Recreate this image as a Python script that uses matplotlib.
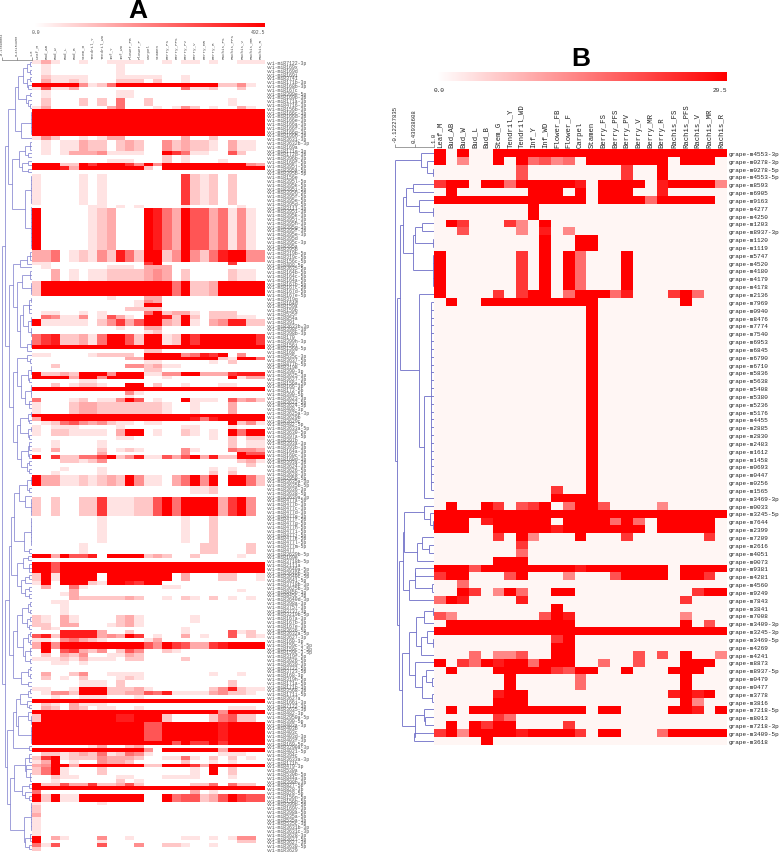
import numpy as np
import matplotlib
matplotlib.use("Agg")
import matplotlib.pyplot as plt
from matplotlib.colors import LinearSegmentedColormap

W, H = 780, 853
BLUE = "#6c6cc6"

tissues = ["Leaf_M", "Bud_AB", "Bud_W", "Bud_L", "Bud_B", "Stem_G", "Tendril_Y", "Tendril_WD",
           "Inf_Y", "Inf_WD", "Flower_FB", "Flower_F", "Carpel", "Stamen", "Berry_FS", "Berry_PFS",
           "Berry_PV", "Berry_V", "Berry_MR", "Berry_R", "Rachis_FS", "Rachis_PFS", "Rachis_V",
           "Rachis_MR", "Rachis_R"]

max_a = 492.5
max_b = 29.5
scale_a = [-0.13690084, 0.43154958, 1.0]
scale_b = [-0.12227835, 0.43938608, 1.0]

labels_a = [
    "vvi-miR7122-3p", "vvi-miR169x", "vvi-miR169d", "vvi-miR169i", "vvi-miR3741", "vvi-miR171b-3p", "vvi-miR168b-3p", "vvi-miR167c", "vvi-miR399e-5p", "vvi-miR169p-3p",
    "vvi-miR171a-3p", "vvi-miR4716-3p", "vvi-miR156b-3p", "vvi-miR166c-3p", "vvi-miR166d-3p", "vvi-miR166e-3p", "vvi-miR166a-3p", "vvi-miR166f-3p", "vvi-miR166g-3p", "vvi-miR166h-3p",
    "vvi-miR3631-3p", "vvi-miR3632b-3p", "vvi-miR169a", "vvi-miR171e-3p", "vvi-miR172d-3p", "vvi-miR396b-3p", "vvi-miR160f-5p", "vvi-miR395j-5p", "vvi-miR395a-5p", "vvi-miR395b-5p",
    "vvi-miR156e", "vvi-miR395l-5p", "vvi-miR395k-5p", "vvi-miR395i-5p", "vvi-miR395h-5p", "vvi-miR395f-5p", "vvi-miR395e-5p", "vvi-miR395d-5p", "vvi-miR3111-3p", "vvi-miR395i-3p",
    "vvi-miR395k-3p", "vvi-miR395j-3p", "vvi-miR395h-3p", "vvi-miR395g-3p", "vvi-miR395f-3p", "vvi-miR395e-3p", "vvi-miR395d", "vvi-miR395c-3p", "vvi-miR395a", "vvi-miR395b",
    "vvi-miR319b-5p", "vvi-miR319c-5p", "vvi-miR156c-5p", "vvi-miR408-5p", "vvi-miR3635-5p", "vvi-miR164b-5p", "vvi-miR164c-5p", "vvi-miR164a-5p", "vvi-miR167b-5p", "vvi-miR167c-5p",
    "vvi-miR167d-5p", "vvi-miR167e-5p", "vvi-miR319g", "vvi-miR164d", "vvi-miR159a", "vvi-miR159b", "vvi-miR535f", "vvi-miR854a", "vvi-miR391", "vvi-miR3633b-3p",
    "vvi-miR398c-3p", "vvi-miR398b-3p", "vvi-miR170", "vvi-miR399h-3p", "vvi-miR156i", "vvi-miR156g-5p", "vvi-miR168", "vvi-miR535c-3p", "vvi-miR3637-5p", "vvi-miR477b-5p",
    "vvi-miR319e", "vvi-miR390-3p", "vvi-miR3625-3p", "vvi-miR3627-3p", "vvi-miR156a-5p", "vvi-miR166-3p", "vvi-miR172-5p", "vvi-miR390-5p", "vvi-miR3623-3p", "vvi-miR3622-5p",
    "vvi-miR3624-5p", "vvi-miR408-3p", "vvi-miR3625a-3p", "vvi-miR3629b", "vvi-miR3629c", "vvi-miR482-5p", "vvi-miR3633a-5p", "vvi-miR3630-5p", "vvi-miR397a-5p", "vvi-miR397b",
    "vvi-miR393a-3p", "vvi-miR393b-3p", "vvi-miR164a-3p", "vvi-miR160c-3p", "vvi-miR160d-3p", "vvi-miR393a-3p", "vvi-miR3624-3p", "vvi-miR3626-5p", "vvi-miR3628-3p", "vvi-miR2950-5p",
    "vvi-miR3635a-3p", "vvi-miR3635b-5p", "vvi-miR3636-3p", "vvi-miR3638-5p", "vvi-miR3639a-3p", "vvi-miR477a-5p", "vvi-miR477b-3p", "vvi-miR477c-3p", "vvi-miR477d-3p", "vvi-miR477e-3p",
    "vvi-miR477f-5p", "vvi-miR477g-5p", "vvi-miR477h-5p", "vvi-miR477i-5p", "vvi-miR477j-5p", "vvi-miR477k-5p", "vvi-miR477l-5p", "vvi-miR477m-5p", "vvi-miR477", "vvi-miR3639b-5p",
    "vvi-miR169e", "vvi-miR3718b-5p", "vvi-miR2111a", "vvi-miR3640a-5p", "vvi-miR3640b-5p", "vvi-miR3640c-5p", "vvi-miR3641-5p", "vvi-miR3718b-3p", "vvi-miR3625b-3p", "vvi-miR845b-3p",
    "vvi-miR845c-3p", "vvi-miR3640d-3p", "vvi-miR398a-3p", "vvi-miR3757-3p", "vvi-miR3737-3p", "vvi-miR3219b-5p", "vvi-miR167a-3p", "vvi-miR167b-3p", "vvi-miR167e-3p", "vvi-miR3636-5p",
    "vvi-miR3632a-5p", "vvi-miR3627-3p", "vvi-miR160-3p", "vvi-miR159c-1-5p", "vvi-miR159c-2-5p", "vvi-miR159c-3-5p", "vvi-miR319f-5p", "vvi-miR3626-5p", "vvi-miR3639-3p", "vvi-miR3722-5p",
    "vvi-miR3723-5p", "vvi-miR168-3p", "vvi-miR319h-5p", "vvi-miR171a-5p", "vvi-miR171b-3p", "vvi-miR3568-3p", "vvi-miR171i-5p", "vvi-miR3627a", "vvi-miR166i-3p", "vvi-miR7122-3p",
    "vvi-miR3635-3p", "vvi-miR482-3p", "vvi-miR2950a-5p", "vvi-miR390-5p", "vvi-miR403a-3p", "vvi-miR403b", "vvi-miR403c", "vvi-miR403d-3p", "vvi-miR403f-3p", "vvi-miR169-5p",
    "vvi-miR3290a-3p", "vvi-miR4021-5p", "vvi-miR394c", "vvi-miR3633a-3p", "vvi-miR171h", "vvi-miR479-3p", "vvi-miR530a", "vvi-miR530b-5p", "vvi-miR844a-3p", "vvi-miR398b-3p",
    "vvi-miR827-5p", "vvi-miR828-3p", "vvi-miR828-5p", "vvi-miR156n-5p", "vvi-miR156h-5p", "vvi-miR399p-5p", "vvi-miR169y-3p", "vvi-miR398a-5p", "vvi-miR535a-5p", "vvi-miR535a-3p",
    "vvi-miR535c-3p", "vvi-miR3631b-3p", "vvi-miR3631c-3p", "vvi-miR3628-3p", "vvi-miR3627-5p", "vvi-miR3627-3p", "vvi-miR3630-5p", "vvi-miR3629"
]

# (number of rows, "col:level col-col:level"), level 0-9 of the colour bar
rows_a = [
    (1, "0:1 1:3 2:1 5:1 8-11:1 14:1 16-17:1 19:1 22-24:1"),
    (3, "1:1 9:1"),
    (1, "1:2 2-5:1 9-13:1 16:1"),
    (1, "1:3 2-3:1 4:2 5:1 9-11:2 13:2 16:1"),
    (1, "0-4:9 5:4 6:1 7:2 8:5 9-19:9 20-21:2 22:4 23:1"),
    (1, "0:1 1:6 2-3:1 4:3 16:5 17-18:1 19:2 22:2"),
    (2, "1:1 9-10:1"),
    (2, "1:2 5:2 7:2 9:5 12:2 21:1"),
    (1, "0:1 1:3 8:3 9:5 13:1 15:1 16:4 17:2 19:1 22:3 23:1"),
    (7, "0-24:9"),
    (1, "0:1 1:4 2:2 5:1 7:1 8-9:3 16:3 19:2"),
    (3, "1:1 3-4:1 5:3 6-7:2 9:2 10:3 11:2 14:4 15:2 16:3 17-18:2 19:1 21:3 22-23:1"),
    (1, "1:1 3:1 4-6:3 7:4 8-11:1 14:9 15:7 16:5 17-18:1 21:6 22:2"),
    (1, "14:2 16:1"),
    (1, "8-10:1 14:2 16:1 20:1"),
    (1, "0-2:9 3-4:2 5:9 6:7 7-9:9 10:7 11:4 12:9 13:4 14-22:9 23:4 24:3"),
    (1, "0-2:9 3:8 4:3 5-11:9 12:2 14-24:9"),
    (1, ""),
    (8, "0:1 5:1 7:1 16:7 17:2 18:1 19:2 21:2"),
    (1, "6-7:1 9:1 11:1 16:1 22:1"),
    (11, "0:9 6:1 7:2 8:3 12:9 13:8 14:5 15:3 16:9 17-18:6 19:3 20:5 21:1 22:4 23:1"),
    (3, "0-1:3 2:5 4:1 5:2 6:1 7:4 8:2 9:8 10:5 11:2 12-13:9 14:2 15:4 16:9 17:4 18:2 19:5 20:8 21-22:9 23-24:4"),
    (1, "0-1:1 12:7 13:9 21:7"),
    (1, "1:1 8-10:1 12-14:3"),
    (3, "2:3 4:1 6-7:1 8-11:2 12:3 13:4 14:3 16:2 21:2 22-23:1"),
    (4, "0:2 1-14:9 15:5 16:9 17-18:2 19:3 20-24:9"),
    (1, "8:1 12-13:3"),
    (1, "11:1 12:4 13:3"),
    (1, "11:1 12-13:9"),
    (1, "10-13:2"),
    (1, "1-2:1 5:1 7:1 12:5 13:9 14:2 15-16:3 17:1 19-21:2"),
    (1, "1:5 2:4 3-4:1 5:4 7:1 8:6 9:3 10:1 12-13:9 14:8 15:2 16:9 17:2 19-21:2 22-23:1"),
    (2, "0:9 1-5:1 7:2 8:4 9:7 10:3 11:6 12-13:9 14:3 15:2 16:9 17:1 19:3 20:4 21-22:8 23-24:2"),
    (1, "9:1 12-13:3"),
    (1, "12:1 13:2"),
    (3, "0:5 1:7 2:8 3-4:2 5:3 6:1 7:5 8-9:9 10:6 11:2 12-13:9 14:1 15:2 16:9 17:7 18-23:9 24:7"),
    (1, "0-24:9"),
    (1, "12-13:2"),
    (1, "0-1:1 6:1 7-10:2 12-15:9 16:4 17:5 18:8 19:7 20:9 22:4"),
    (1, "10-11:3 12-19:9 20:2 21:1 22-23:9 24:5"),
    (1, "12-13:1 19:1 21:2"),
    (1, "2:2 10-11:4 12:2 13:3 14-15:1"),
    (1, "12-13:2"),
    (1, "0:9 1-2:2 3:3 4:2 5-7:9 8:4 9-11:9 12-13:1 14-15:4 16-17:9 18-20:3 21:7 22-24:8"),
    (1, "0-3:9 4:3 5-6:9 7:4 8-11:9 14:1 21:9 22:1 23-24:3"),
    (1, "5-6:1"),
    (1, "2:2 4:1 5-6:2 7:1 10-11:9 13:2 16:1 20-21:1"),
    (1, "0-24:9"),
    (1, "10:4 11:1"),
    (1, "10:1"),
    (1, "0:5 4:1 5:2 7-8:1 9:4 10:9 11:6 13:1 16:9 17-19:1 21:6 22:3 23:4 24:2"),
    (3, "0:1 4:2 5-6:3 7:2 8-13:2 14:1 17:1 21:3"),
    (1, "0-24:9"),
    (1, "0:3 1-16:9 17:8 18:5 19:8 20-24:9"),
    (1, "1:1 2:2 3:5 4:6 5:4 6:3 7:4 8:2 9-10:1 12-13:1 21:9 22:2 23:4 24:1"),
    (1, "0:1 2-4:1 9:1 16-17:1 21:1"),
    (2, "0:1 2-3:2 4-7:1 9:3 10-11:9 13:1 16:2 17:1 19:1 21:9 22:5 23-24:9"),
    (1, "9-10:1 19:1 21:2 23-24:2"),
    (2, "2:1 7:1 21:2 23-24:1"),
    (1, "0:1 2:3 7:2 9:1 10:2 11:1 16:4 17:1 21:5 22-23:4 24:3"),
    (1, "7:3 16:4 22:9 23-24:6"),
    (1, "0:9 2:7 3-4:2 5-6:5 7:7 8:9 9:2 10:4 11:8 12-13:1 14:6 15:3 16:6 17:9 18:3 19:8 20-21:2 22-24:9"),
    (1, "3-4:2 5:1 6:2 7:4 22:2 23:3 24:1"),
    (1, "23:2"),
    (1, "3:1 7:1 19:1 21:1"),
    (1, "2:1 7:1 19:2 21:2"),
    (3, "0:9 1-2:3 3-4:1 5:2 6:1 7:2 8:3 9:2 10:9 11:4 12-13:1 15:3 16:5 17:9 18:4 19:9 21-22:9 23:5 24:2"),
    (2, "17-18:1 19:2"),
    (1, ""),
    (5, "0:2 2:2 5-6:2 7:7 8-10:1 11-12:2 13:6 14:9 15:5 16-19:9 20:3 21:7 22:9 23:4"),
    (7, "7:1 16:1 19:2"),
    (3, "5:1 18-19:2 23:2"),
    (1, "0-1:9 2:3 3:9 4-5:6 6:8 8-11:9 12:2 13:3 14:2 17:2 22:1"),
    (1, ""),
    (3, "0-1:9 2:6 3-24:9"),
    (2, "0:2 1:9 2:1 3-6:9 8-14:9 16:3 20-21:2 24:1"),
    (1, "0:1 1:9 3-5:9 6:2 7:1 8-9:9 10:8 11:7 12-13:9"),
    (1, "1:3 4:5 5:1 14-15:1"),
    (1, "4:3 22:1"),
    (1, "3:1 4:3"),
    (1, "4:3 5-9:2 10:3 11:2 14:1 16:2 17:1 19:2 21:1 23:1"),
    (1, "2-3:1"),
    (3, "3:1"),
    (2, "0:2 1:1 3:3 4:1 9:2 10:3 11:1 17:1"),
    (1, "0-1:2 3-4:3 8:1 9:2 10:3 11:1"),
    (1, "1:2 2:1 16:1"),
    (1, "3-6:8 7:3 10:2 16:1 21:6 22:1 23:2"),
    (1, "0:6 1:8 2:2 3-6:8 7:3 8:4 9:3 10:9 11:7 13:1 16:3 18:1 21:6 23:2 24:1"),
    (1, "0-1:1 3:4 4:5 5:3 6:2 7:1 12:1 13:3"),
    (2, "0:3 1:9 2:4 3-11:9 12:6 13:4 14:9 15:7 16:6 17-18:3 19:7 20:8 21-24:9"),
    (1, "1:9 3:6 4:7 5:3 6:2 7:4 9:2 10:6 11:4 14:2 15:1"),
    (1, "1:2 3:3 4:2 5:4 8-9:1 10:3 11:2"),
    (1, "0-2:1 3:2 4:1 5:3 6-8:1 10-11:2 16:2"),
    (1, "2-3:1 5:1"),
    (2, ""),
    (1, "1:3 4:2 5:4 8-11:1 19:1 22:1"),
    (1, "1:2 3:1 5:2 9:1 10:2 11:1"),
    (2, "5-7:1 9:2 21:2"),
    (1, "0-1:1 4:1 5-7:9 8-10:2 11:3 12:1 19:2 20:4 21:8 22:2 23-24:1"),
    (1, "1:1 2-3:4 4:2 5-7:9 8-9:2 10-11:3 12:6 13:5 14:8 15-18:1 19:3 20:4 21-22:2 23:1"),
    (1, "2:1 5-7:1 11:1"),
    (1, "0-24:9"),
    (1, "1:2 2:1 4:3 5-7:1"),
    (1, "1:3 2:2 4:3 5:2 7-8:1 11:1 21-23:1"),
    (1, "0-19:9 20:4 21-24:9"),
    (2, "0:2 1-8:9 9-10:8 11-13:9 14:2 19:2 20:5 21:6 22-23:2"),
    (5, "0-11:9 12-13:6 14-19:9 20:8 21-24:9"),
    (1, "0-14:9 15:6 16:9 17-18:7 19:9 20:7 21-24:9"),
    (1, "6:1 7:3 10:2 11:3"),
    (1, "0-11:9 12:4 14-19:9 20:3 21-24:9"),
    (1, "1-2:2 3:1 4:2 5:3 6:2 7:5 8:1 9:2 10:5 11:4 12:1 20-22:1"),
    (1, "0:2 1:7 2:9 3:1 4-6:2 7:4 8-10:3 11:2 14-15:1 16:5 17:1 19:2 21:2 23:1"),
    (1, "0:1 1:3 2:9 4:1 7:4 8-9:3 10:2 16:2 19:1 21:1"),
    (1, "0:3 1:4 2-3:9 4:3 5-11:9 12-13:2 14-16:9 17:7 18:3 19-24:9"),
    (2, "0:2 1:5 2:9 3:1 7:2 17:1 19:9 21:2"),
    (1, "2:2 3-4:1 9-10:1 14-17:1 21:1"),
    (1, "2:1 9:2 11:1"),
    (1, "0:9 1-2:2 3:6 4-5:3 6:7 7-8:2 9:3 10:6 11:2 17-18:2 19:5 21:5 22-23:2"),
    (1, "0-24:9"),
    (1, "0:5 17:3 19:1"),
    (2, "0:9 1:2 2:9 3-4:1 5-11:9 14:9 15:5 16-17:6 18:2 19:3 20:6 21:9 22:7 23-24:6"),
    (1, "0:1 7:1"),
    (2, "0:2"),
    (1, "0:3"),
    (5, "0:1"),
    (1, "0:9 2:3 3:1 7:4 10:1 16-17:1 19:1 21:1 22-23:4"),
    (1, "0:9 7:1 22-23:2"),
    (1, "0:5 1:1 2:6 7:6 11:4 14-15:2 16:1 19:1"),
    (1, "0:2"),
]

labels_b = [
    "grape-m4553-3p", "grape-m0278-3p", "grape-m0278-5p", "grape-m4553-5p", "grape-m8593", "grape-m6905", "grape-m9163", "grape-m4277",
    "grape-m4250", "grape-m1203", "grape-m8937-3p", "grape-m1120", "grape-m1119", "grape-m5747", "grape-m4520", "grape-m4180",
    "grape-m4179", "grape-m4178", "grape-m2136", "grape-m7969", "grape-m0940", "grape-m8476", "grape-m7774", "grape-m7540",
    "grape-m6953", "grape-m6845", "grape-m6790", "grape-m6710", "grape-m5836", "grape-m5638", "grape-m5408", "grape-m5380",
    "grape-m5236", "grape-m5176", "grape-m4455", "grape-m2885", "grape-m2830", "grape-m2483", "grape-m1612", "grape-m1458",
    "grape-m0693", "grape-m0447", "grape-m0256", "grape-m1565", "grape-m3469-3p", "grape-m0033", "grape-m3245-5p", "grape-m7644",
    "grape-m2399", "grape-m7209", "grape-m2616", "grape-m4051", "grape-m0073", "grape-m9381", "grape-m4281", "grape-m4560",
    "grape-m9249", "grape-m7843", "grape-m3841", "grape-m7008", "grape-m3409-3p", "grape-m3245-3p", "grape-m3469-5p", "grape-m4269",
    "grape-m4241", "grape-m8873", "grape-m8937-5p", "grape-m0479", "grape-m0477", "grape-m3778", "grape-m3816", "grape-m7218-5p",
    "grape-m8013", "grape-m7218-3p", "grape-m3409-5p", "grape-m3618"
]

rows_b = [
    (1, "0:9 2:9 5-24:9"),
    (1, "0:9 2:4 5:9 7:9 8:5 9:6 10:4 11:5 13-19:9 21-23:9"),
    (2, "7:6 16:7 19:9"),
    (1, "0:7 1-2:9 4-5:9 6:5 7-11:9 12:8 14-17:9 19:8 20-23:9 24:4"),
    (1, "1:9 8-10:9 12:9 14-16:9 19:8"),
    (1, "0-12:9 14-17:9 18:5 19-23:9"),
    (2, "8:9"),
    (1, "1:9 2:7 6:7 7:4 9:9"),
    (1, "2:6 7:4 9:8 11:4"),
    (2, "9:9 12-13:9"),
    (5, "0:9 7:7 9:9 11:9 12:5 16:9"),
    (1, "0:9 5:7 7:7 8-9:9 11:5 12-14:9 15:5 16:8 20:7 21:9 22:5"),
    (1, "1:9 4-13:9 21:9"),
    (23, "13:9"),
    (1, "10:7 13:9"),
    (1, "10-13:9"),
    (1, "1:9 4:9 5:7 7:6 8:7 9:9 11:5 12-13:9 14:6 19:4"),
    (1, "0-24:9"),
    (1, "0-2:9 4:8 5-9:9 11-14:9 15:5 16:9 17:5 19-23:9"),
    (1, "0-2:9 5-9:9 10:8 11-17:9 19-23:9"),
    (1, "5:7 7:9 8:4 12:9 16:7 23:7"),
    (1, "7:7"),
    (1, "7:5"),
    (1, "5-7:9"),
    (1, "0-2:9 3:6 4-11:9 12:8 13-19:9 21-24:9"),
    (1, "0:7 1-2:9 6:6 7:9 11:4 15:6 16-19:9 21-22:9 23:7"),
    (1, "2:5"),
    (1, "2:9 3:7 5:4 6:9 7:5 10-11:9 22:7 23-24:9"),
    (1, "0:5 1:9 2:8 7:8 21:7"),
    (1, "10:9"),
    (1, "0:6 1:4 9:6 10:9 11:8 21:4"),
    (1, "1-11:9 21:9 23:6"),
    (1, "0-24:9"),
    (1, "10:7 11:9"),
    (1, "10-11:9"),
    (1, "3:5 5-6:4 7:6 10-11:9 17:6 19:6 21:9 24:4"),
    (1, "0:9 2:7 3:5 4:9 5:8 6-7:9 8:5 9-11:9 14:5 17:6 21-23:9"),
    (1, "1:9 5-9:9 10:7 11:6 12-13:9 16:9 20-22:9"),
    (2, "6:9 12:5 21:9"),
    (1, "5:8 6-7:9 20:8 21:9 22:8 23:9"),
    (1, "5-7:9 21:9 22:4"),
    (1, "1:9 3-12:9 14-15:9 20-21:9 22:8 24:9"),
    (1, "5:7 6:5"),
    (1, "1:9 3:9 4:7 5-6:9 11:7"),
    (1, "0:7 1:9 2:4 3-6:9 7:8 8-11:9 12:7 14-15:9 19:5 20-24:9"),
    (1, "4:9"),
]

# dendrograms: (similarity of the join, children...), a plain int is that many leaves
a_top1 = (.35, (.48, (.68, (.82, (.93, 2), (.93, 2)), (.82, (.93, 2), (.86, 2))),
                (.78, (.93, 2), (.85, 1, (.93, 2)))), (.6, (.97, 7), 1))
a_top2 = (.24, (.5, (.72, (.92, 3), (.85, 2)), (.62, (.85, 2), (.85, 2))), (.72, (.97, 8), (.97, 12)))
a_b1 = (.55, (.8, (.92, 3), 1), 1)
a_b2 = (.62, (.93, 3), (.95, 4))
a_b3 = (.68, (.9, (.95, 2), (.9, 3)), (.85, (.95, 3), (.95, 3)))
a_b4 = (.8, (.95, 3), 1)
a_b5 = (.82, 1, (.92, 2))
a_b6 = (.58, (.85, (.95, 3), (.9, 2)), (.72, (.95, 4), (.88, 3)))
a_b7 = (.55, (.85, (.95, 2), (.9, 2)), (.85, (.95, 2), (.9, 2)))
a_b8 = (.6, (.85, (.9, 3), (.9, 2)), (.8, (.9, 2), (.9, 2)))
a_mid = (.12, (.3, a_b1, (.42, a_b2, (.55, a_b3, a_b4))), (.28, (.42, a_b5, a_b6), (.42, a_b7, a_b8)))
a_c = (.32, (.5, (.8, (.95, 3), (.9, 2)), (.75, 1, (.97, 5))), (.7, (.97, 8), (.88, 2)))
a_d = (.42, (.68, (.85, 2), (.9, 3)), (.6, (.75, (.9, 2), 1), (.72, (.9, 2), (.9, 2))))
a_e = (.3, (.45, (.62, (.85, (.92, 2), (.92, 2)), (.8, (.92, 2), (.9, 2))),
            (.65, (.85, (.92, 2), (.92, 2)), (.75, (.92, 3), (.92, 2)))),
       (.6, (.85, (.93, 2), (.93, 2)), (.85, 2)))
a_f = (.28, (.4, (.55, (.85, (.92, 2), 1), (.8, 1, (.9, 1, 1))), (.48, (.85, 1, (.95, 3)), (.97, 5))), (.9, 2))
a_low = (.16, (.32, (.72, (.9, 3), (.78, 2, (.92, 3))), (.62, (.88, 2), (.75, 1, (.9, 2)))),
         (.7, (.97, 8), (.75, (.92, 3), (.9, 2))))
tree_a = (-.137, (-.03, (.11, a_top1, a_top2), a_mid),
          (0., (.12, (.2, a_c, a_d), a_e), (.08, a_f, a_low)))

b_head = (.63, 1, (.81, 1, (.98, 2)))
b_t1 = (.12, (.18, (.39, 1, 1), (.58, 1, (.98, 2))), (.39, (.45, (.65, 2), (.98, 2)), (.98, 5)))
b_t2 = (.58, 1, (.72, (.9, 25), 1))
b_g1 = (.12, (.15, (.7, 1, (.88, 1, (.98, 2))), (.52, (.65, 1, (.85, 2)), 1)),
        (.28, (.45, (.45, 2), (.95, 2)), 1))
b_g2 = (.09, (.28, (.47, (.72, (.97, 2), 1), (.63, (.8, 1, (.97, 2)), 1)),
              (.45, 1, (.65, (.78, 1, (.95, 2)), (.93, 2)))),
        (.45, (.72, 1, (.75, 2)), (.43, 2)))
tree_b = (-.122, b_head, (-.06, (.03, b_t1, b_t2), (-.01, b_g1, b_g2)))


def expand(rows):
    out = []
    for count, spec in rows:
        row = np.zeros(len(tissues))
        for part in spec.split():
            cols, level = part.split(":")
            first, _, last = cols.partition("-")
            row[int(first):int(last or first) + 1] = int(level)
        out += [row] * count
    return np.array(out)


def px_axes(fig, x0, y0, x1, y1):
    return fig.add_axes([x0 / W, 1 - y1 / H, (x1 - x0) / W, (y1 - y0) / H])


def draw_tree(ax, node, leaf, lw):
    # returns (similarity, y) of the node and the next free leaf row
    sim = node[0]
    ys = []
    for child in node[1:]:
        if isinstance(child, int):
            for _ in range(child):
                ax.plot([sim, 1.0], [leaf, leaf], color=BLUE, lw=lw, solid_capstyle="butt")
                ys.append(leaf)
                leaf += 1
        else:
            (child_sim, child_y), leaf = draw_tree(ax, child, leaf, lw)
            ax.plot([sim, child_sim], [child_y, child_y], color=BLUE, lw=lw, solid_capstyle="butt")
            ys.append(child_y)
    ax.plot([sim, sim], [ys[0], ys[-1]], color=BLUE, lw=lw, solid_capstyle="butt")
    return (sim, (ys[0] + ys[-1]) / 2), leaf


def panel(fig, title, title_x, title_y, rows, labels, tree, vmax, scale, zero, box, bar, tree_left,
          col_size, row_size, scale_size, bar_size, bar_label_y, text_color, lw, scale_gap):
    levels = expand(rows)
    cmap = LinearSegmentedColormap.from_list("wr", [zero, "#ff0000"])
    x0, y0, x1, y1 = box

    ax = px_axes(fig, x0, y0, x1, y1)
    ax.imshow(levels / 9 * vmax, cmap=cmap, vmin=0, vmax=vmax, aspect="auto", interpolation="nearest")
    ax.set_xticks(range(len(tissues)))
    ax.set_xticklabels(tissues, rotation=90, fontsize=col_size, color=text_color, family="Liberation Mono")
    ax.set_yticks(range(len(labels)))
    ax.set_yticklabels(labels, fontsize=row_size, color=text_color, family="Liberation Mono")
    ax.tick_params(length=0, top=True, labeltop=True, bottom=False, labelbottom=False,
                   left=False, labelleft=False, right=True, labelright=True, pad=1.5)
    for s in ax.spines.values():
        s.set_visible(False)

    den = px_axes(fig, tree_left, y0, x0, y1)
    draw_tree(den, tree, 0, lw)
    den.set_xlim(scale[0], 1.0)
    den.set_ylim(len(labels) - 0.5, -0.5)
    den.patch.set_alpha(0)
    for side in ("left", "right", "bottom"):
        den.spines[side].set_visible(False)
    den.spines["top"].set_linewidth(0.5)
    den.spines["top"].set_color("#777777")
    den.spines["top"].set_position(("outward", scale_gap))
    den.xaxis.tick_top()
    den.set_xticks(scale)
    den.set_xticklabels([str(v) for v in scale], rotation=90, fontsize=scale_size, color=text_color,
                        family="Liberation Mono")
    den.tick_params(axis="x", length=2, width=0.5, color="#777777", pad=1.5)
    den.set_yticks([])

    cb = px_axes(fig, bar[0], bar[1], bar[2], bar[3])
    cb.imshow(np.linspace(0, vmax, 256)[None, :], cmap=LinearSegmentedColormap.from_list("cb", ["#ffffff", "#ff0000"]),
              aspect="auto", vmin=0, vmax=vmax)
    cb.axis("off")
    fig.text(x0 / W, 1 - bar_label_y / H, "0.0", fontsize=bar_size, color=text_color, va="center",
             family="Liberation Mono")
    fig.text(x1 / W, 1 - bar_label_y / H, str(vmax), fontsize=bar_size, color=text_color, va="center", ha="right",
             family="Liberation Mono")
    fig.text(title_x / W, 1 - title_y / H, title, fontsize=19, fontweight="bold", ha="center", va="center",
             family="Liberation Sans", color="black")


fig = plt.figure(figsize=(W / 100, H / 100), dpi=100, facecolor="white")

panel(fig, "A", 138, 11, rows_a, labels_a, tree_a, max_a, scale_a, "#ffffff",
      box=(32, 61.3, 265, 852), bar=(35, 23.5, 265, 27.5), tree_left=1.7,
      col_size=3.1, row_size=3.5, scale_size=2.5, bar_size=3.5, bar_label_y=32,
      text_color="#555555", lw=0.45, scale_gap=0.5)

panel(fig, "B", 581, 59, rows_b, labels_b, tree_b, max_b, scale_b, "#fff6f4",
      box=(434, 150, 726.7, 745.7), bar=(436.7, 73.3, 726.7, 81.7), tree_left=395,
      col_size=5.2, row_size=4.3, scale_size=4.1, bar_size=4.4, bar_label_y=90.7,
      text_color="#222222", lw=0.6, scale_gap=1.5)

plt.savefig("out.png", dpi=100)
